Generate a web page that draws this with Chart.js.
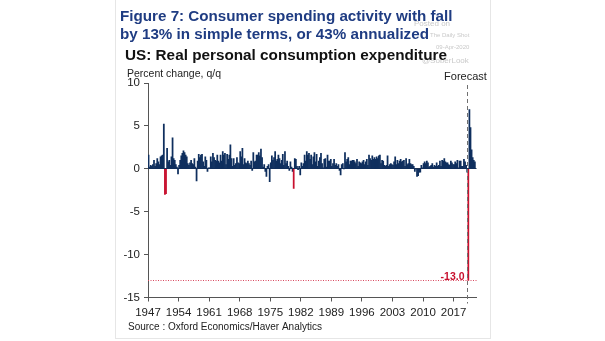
<!DOCTYPE html>
<html>
<head>
<meta charset="utf-8">
<script src="https://cdn.jsdelivr.net/npm/chart.js@4.4.1/dist/chart.umd.min.js"></script>
<style>
  html, body { margin: 0; padding: 0; background: #fff; }
  #wrap { width: 605px; height: 341px; position: relative; }
</style>
</head>
<body>
<div id="wrap"><canvas id="myChart"></canvas></div>
<script>
// quarterly % change in real PCE, 1947Q1 .. 2021Q4 (2020Q2 onward is forecast)
const startYear = 1947;
const pceChange = [
  1.6, 0.2, 0.4, 0.3,   // 1947
  0.5, 1.0, 0.3, 0.6,   // 1948
  1.2, 0.8, 0.5, 1.4,   // 1949
  1.5, 1.6, 5.2, -3.0,  // 1950
  -2.9, 2.4, 0.8, 1.0,  // 1951
  0.4, 1.4, 3.6, 1.2,   // 1952
  1.0, 0.5, 0.2, -0.6,  // 1953
  0.4, 1.0, 1.5, 1.8,   // 1954
  2.1, 1.9, 1.6, 1.4,   // 1955
  0.6, 0.4, 0.7, 1.0,   // 1956
  0.6, 0.5, 1.2, 0.2,   // 1957
  -1.4, 0.9, 1.7, 1.3,  // 1958
  1.6, 1.7, 0.8, 0.3,   // 1959
  1.4, 1.0, -0.3, 0.1,  // 1960
  0.1, 1.4, 0.8, 1.8,   // 1961
  1.3, 1.0, 0.9, 1.6,   // 1962
  0.9, 0.7, 1.6, 0.9,   // 1963
  2.0, 1.6, 1.8, 0.5,   // 1964
  1.7, 1.1, 1.6, 2.8,   // 1965
  1.2, 0.3, 1.2, 0.4,   // 1966
  0.6, 1.3, 0.7, 0.6,   // 1967
  2.0, 1.4, 2.4, 0.5,   // 1968
  1.2, 0.7, 0.6, 0.9,   // 1969
  0.6, 0.4, 0.9, -0.2,  // 1970
  1.9, 0.8, 0.9, 1.6,   // 1971
  1.6, 1.9, 1.5, 2.3,   // 1972
  1.3, 0.2, 0.5, -0.3,  // 1973
  -0.9, 0.3, 0.5, -1.5, // 1974
  0.7, 1.5, 1.0, 1.3,   // 1975
  2.0, 0.9, 1.1, 1.6,   // 1976
  1.2, 0.6, 1.0, 1.7,   // 1977
  0.4, 2.0, 0.6, 0.9,   // 1978
  0.3, -0.2, 0.8, 0.2,  // 1979
  -0.3, -2.3, 1.2, 1.1, // 1980
  0.3, -0.1, 0.3, -0.7, // 1981
  0.7, 0.3, 0.6, 1.6,   // 1982
  0.9, 2.0, 1.6, 1.8,   // 1983
  1.1, 1.6, 0.5, 1.4,   // 1984
  1.9, 0.8, 1.7, 0.3,   // 1985
  0.9, 1.3, 1.8, 0.6,   // 1986
  0.1, 1.1, 1.2, 0.2,   // 1987
  1.6, 0.9, 0.9, 1.1,   // 1988
  0.3, 0.6, 1.1, 0.4,   // 1989
  0.6, 0.3, 0.5, -0.2,  // 1990
  -0.7, 0.5, 0.6, 0.0,  // 1991
  1.9, 0.8, 1.1, 1.3,   // 1992
  0.5, 0.9, 0.9, 1.0,   // 1993
  1.0, 0.8, 0.6, 1.1,   // 1994
  0.3, 0.8, 0.7, 0.6,   // 1995
  0.8, 1.0, 0.5, 0.8,   // 1996
  1.1, 0.4, 1.6, 1.2,   // 1997
  1.0, 1.5, 1.1, 1.3,   // 1998
  1.1, 1.4, 1.2, 1.5,   // 1999
  1.6, 0.6, 1.0, 0.9,   // 2000
  0.4, 0.3, 0.4, 1.5,   // 2001
  0.3, 0.5, 0.6, 0.5,   // 2002
  0.4, 0.8, 1.4, 0.5,   // 2003
  1.0, 0.6, 0.9, 1.1,   // 2004
  0.8, 0.9, 1.0, 0.3,   // 2005
  1.2, 0.5, 0.6, 1.1,   // 2006
  0.6, 0.5, 0.5, 0.3,   // 2007
  -0.3, 0.0, -0.9, -0.8,// 2008
  -0.4, -0.4, 0.4, 0.1, // 2009
  0.6, 0.8, 0.6, 0.9,   // 2010
  0.7, 0.2, 0.3, 0.4,   // 2011
  0.6, 0.2, 0.4, 0.3,   // 2012
  0.7, 0.3, 0.4, 0.9,   // 2013
  0.3, 1.0, 0.9, 1.2,   // 2014
  0.8, 0.7, 0.7, 0.5,   // 2015
  0.4, 0.9, 0.7, 0.5,   // 2016
  0.5, 0.8, 0.6, 1.0,   // 2017
  0.1, 0.9, 0.9, 0.3,   // 2018
  0.3, 1.1, 0.8, 0.4,   // 2019
  -0.4, -13.0, 6.9, 4.8,// 2020
  2.2, 1.3, 1.0, 0.8    // 2021
];
// quarters picked out in red
const redQuarters = ['1950Q4', '1951Q1', '1980Q2', '2020Q2'];
const tickYears = [1947, 1954, 1961, 1968, 1975, 1982, 1989, 1996, 2003, 2010, 2017];
const forecastStart = 2020.25;
const forecastLow = -13.0;

const quarterLabels = pceChange.map((_, i) => (startYear + Math.floor(i / 4)) + 'Q' + (i % 4 + 1));
const points = pceChange.map((v, i) => ({ x: startYear + (i + 0.5) / 4, y: v }));
const barColors = quarterLabels.map(q => redQuarters.includes(q) ? '#c8102e' : '#0f2f5e');

const FONT = "'Liberation Sans', Arial, sans-serif";

// draw text squeezed/stretched to a given width
function fitText(c, txt, x, y, w) {
  const m = c.measureText(txt).width;
  c.save();
  c.translate(x, y);
  c.scale(w / m, 1);
  c.fillText(txt, 0, 0);
  c.restore();
}

const extras = {
  id: 'extras',
  beforeDraw(chart) {
    const c = chart.ctx;
    c.save();
    // light frame
    c.strokeStyle = '#e6e6e6';
    c.lineWidth = 1;
    c.strokeRect(115.5, -1, 375, 339.5);
    // posting stamp
    c.fillStyle = '#c9c9c9';
    c.font = '8px ' + FONT;
    c.textBaseline = 'alphabetic';
    c.fillText('Posted on', 414, 26);
    c.font = '6px ' + FONT;
    c.fillText('The Daily Shot', 430, 37);
    c.fillText('09-Apr-2020', 436, 49);
    c.font = '8px ' + FONT;
    c.fillText('@SoberLook', 422, 63);
    // headings
    c.fillStyle = '#1f3c82';
    c.font = 'bold 15.2px ' + FONT;
    c.fillText('Figure 7: Consumer spending activity with fall', 120, 21);
    c.fillText('by 13% in simple terms, or 43% annualized', 120, 39);
    c.fillStyle = '#111';
    c.font = 'bold 15.5px ' + FONT;
    fitText(c, 'US: Real personal consumption expenditure', 125, 60, 322);
    c.fillStyle = '#222';
    c.font = '10.5px ' + FONT;
    c.fillText('Percent change, q/q', 127, 77);
    c.font = '10px ' + FONT;
    c.fillText('Source : Oxford Economics/Haver Analytics', 128, 330);
    c.restore();
  },
  afterDatasetsDraw(chart) {
    const c = chart.ctx;
    const x = chart.scales.x, y = chart.scales.y, a = chart.chartArea;
    c.save();
    // forecast trough
    const yl = Math.round(y.getPixelForValue(forecastLow)) + 0.5;
    c.strokeStyle = '#d9475f';
    c.lineWidth = 1;
    c.setLineDash([1, 1.5]);
    c.beginPath();
    c.moveTo(a.left, yl);
    c.lineTo(a.right, yl);
    c.stroke();
    // forecast divider
    const xf = Math.round(x.getPixelForValue(forecastStart)) - 0.5;
    c.strokeStyle = '#707070';
    c.setLineDash([4, 3]);
    c.beginPath();
    c.moveTo(xf, a.top + 2);
    c.lineTo(xf, a.bottom + 6);
    c.stroke();
    c.setLineDash([]);
    c.fillStyle = '#c8102e';
    c.font = 'bold 10.5px ' + FONT;
    c.textAlign = 'right';
    c.fillText(forecastLow.toFixed(1), xf - 3, yl - 1);
    c.fillStyle = '#222';
    c.font = '11px ' + FONT;
    c.textAlign = 'center';
    c.fillText('Forecast', xf - 2, 80);
    c.restore();
  }
};

const ctx = document.getElementById('myChart').getContext('2d');

const config = {
  type: 'bar',
  data: {
    datasets: [{
      label: 'Real PCE',
      data: points,
      backgroundColor: barColors,
      borderWidth: 0,
      barPercentage: 1,
      categoryPercentage: 1
    }]
  },
  options: {
    responsive: true,
    maintainAspectRatio: false,
    animation: false,
    layout: { padding: { left: 113, right: 128.5, top: 83, bottom: 20 } },
    plugins: { legend: { display: false }, tooltip: { enabled: false } },
    scales: {
      x: {
        type: 'linear',
        offset: false,
        min: startYear,
        max: 2022.25,
        afterBuildTicks: s => { s.ticks = tickYears.map(v => ({ value: v })); },
        afterFit: s => { s.height = 23.5; },
        ticks: {
          callback: v => String(v),
          autoSkip: false,
          maxRotation: 0,
          padding: 4,
          color: '#222',
          font: { family: FONT, size: 11.5 }
        },
        grid: { drawOnChartArea: false, offset: false, tickLength: 4, tickColor: '#555' },
        border: { color: '#555', width: 1 }
      },
      y: {
        min: -15,
        max: 10,
        afterFit: s => { s.width = 35; },
        ticks: {
          stepSize: 5,
          padding: 4,
          color: '#222',
          font: { family: FONT, size: 11.5 }
        },
        grid: {
          color: c => c.tick && c.tick.value === 0 ? '#1b2f4f' : 'rgba(0,0,0,0)',
          tickColor: '#555',
          tickLength: 4
        },
        border: { color: '#555', width: 1 }
      }
    }
  },
  plugins: [extras]
};

const myChart = new Chart(ctx, config);
</script>
</body>
</html>
